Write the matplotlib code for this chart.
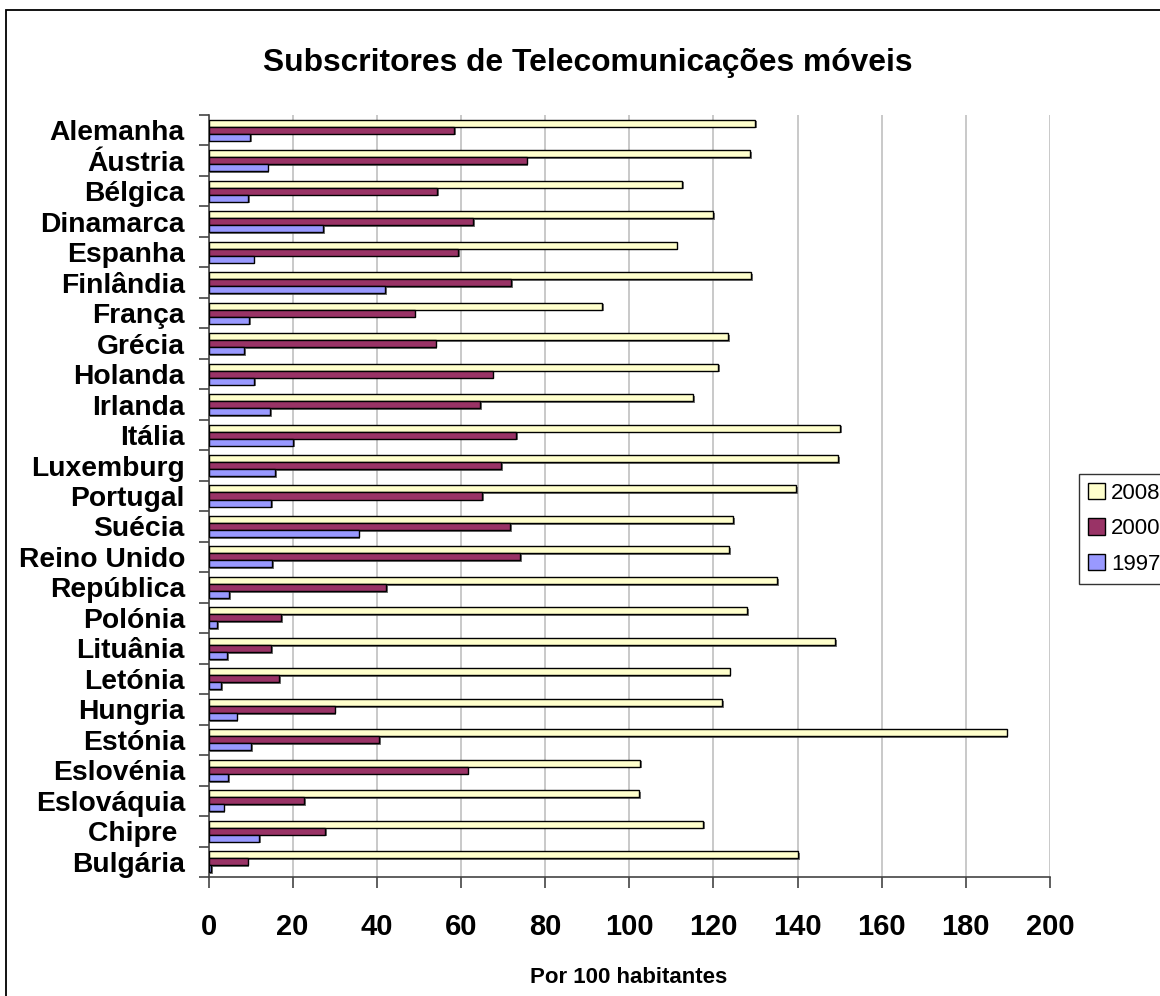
import matplotlib
matplotlib.use("Agg")
import matplotlib.pyplot as plt
import matplotlib.patches as mpatches
import matplotlib.patheffects as pe
import numpy as np

countries = ["Alemanha", "Áustria", "Bélgica", "Dinamarca", "Espanha", "Finlândia",
             "França", "Grécia", "Holanda", "Irlanda", "Itália", "Luxemburg",
             "Portugal", "Suécia", "Reino Unido", "República", "Polónia", "Lituânia",
             "Letónia", "Hungria", "Estónia", "Eslovénia", "Eslováquia", "Chipre ",
             "Bulgária"]
v2008 = [129.9, 128.8, 112.6, 119.9, 111.3, 129.0, 93.5, 123.5, 121.1, 115.2,
         150.1, 149.6, 139.7, 124.7, 123.7, 135.1, 128.1, 148.9, 123.9, 122.1,
         189.7, 102.6, 102.3, 117.5, 140.1]
v2000 = [58.4, 75.6, 54.4, 62.9, 59.3, 71.9, 49.0, 54.0, 67.5, 64.6,
         73.1, 69.5, 65.0, 71.7, 74.1, 42.3, 17.3, 14.9, 16.8, 30.0,
         40.6, 61.6, 22.8, 27.8, 9.3]
v1997 = [9.9, 14.1, 9.5, 27.3, 10.7, 42.0, 9.7, 8.5, 10.9, 14.7,
         20.2, 15.9, 14.9, 35.7, 15.2, 4.9, 2.1, 4.5, 3.0, 6.7,
         10.2, 4.7, 3.6, 12.1, 0.7]
series_names = ["2008", "2000", "1997"]
colors = ["#FFFFCC", "#993366", "#9999FF"]
xticks = [0, 20, 40, 60, 80, 100, 120, 140, 160, 180, 200]

plt.rcParams['font.family'] = ['Liberation Sans', 'DejaVu Sans']

fig = plt.figure(figsize=(11.6, 9.96), dpi=100)
W, H = 1160, 996
ax = fig.add_axes([208.5 / W, 1 - 877 / H, (1050 - 208.5) / W, (877 - 115) / H])

y = np.arange(len(countries))
h = 0.23
shadow = [pe.SimplePatchShadow(offset=(1.2, -1.2), shadow_rgbFace="#555555", alpha=0.8), pe.Normal()]
for vals, off, col, name in zip([v2008, v2000, v1997], [-h, 0, h], colors, series_names):
    bars = ax.barh(y + off, vals, height=h, color=col, edgecolor="black",
                   linewidth=1.0, label=name, zorder=3)
    for b in bars:
        b.set_path_effects(shadow)

ax.set_xlim(0, 200)
ax.set_ylim(len(countries) - 0.5, -0.5)
ax.set_xticks(xticks)
ax.set_xticklabels([str(t) for t in xticks], fontsize=21, fontweight="bold")
ax.tick_params(axis="x", direction="out", length=8, width=1.2, color="#444444", pad=18)
ax.set_yticks(y)
ax.set_yticklabels(countries, fontsize=20.3, fontweight="bold")
ax.tick_params(axis="y", which="major", length=0, pad=17)
ax.set_yticks(np.arange(-0.5, len(countries), 1.0), minor=True)
ax.tick_params(axis="y", which="minor", direction="out", length=7, width=1.2, color="#444444")

ax.grid(axis="x", color="#C0C0C0", linewidth=1.2, zorder=0)
ax.set_axisbelow(True)
for s in ["top", "right"]:
    ax.spines[s].set_visible(False)
for s in ["left", "bottom"]:
    ax.spines[s].set_color("#444444")
    ax.spines[s].set_linewidth(1.2)

fig.text(588 / W, 1 - 63 / H, "Subscritores de Telecomunicações móveis",
         ha="center", va="center", fontsize=22.9, fontweight="bold")
fig.text(629 / W, 1 - 977 / H, "Por 100 habitantes",
         ha="center", va="center", fontsize=16, fontweight="bold")

handles = [mpatches.Patch(facecolor=c, edgecolor="black", linewidth=1.0, label=n)
           for c, n in zip(colors, series_names)]
leg = fig.legend(handles=handles, loc="upper left",
                 bbox_to_anchor=(1079 / W, 1 - 474 / H), fontsize=16,
                 frameon=True, fancybox=False, handlelength=0.75, handleheight=0.75,
                 handletextpad=0.3, labelspacing=0.65, borderpad=0.4, borderaxespad=0)
leg.get_frame().set_edgecolor("black")
leg.get_frame().set_linewidth(1.0)

frame = mpatches.Rectangle((6 / W, -0.1), 1.2, (1 - 10 / H) + 0.1, transform=fig.transFigure,
                           fill=False, edgecolor="black", linewidth=1.3)
fig.patches.append(frame)

fig.savefig("out.png", dpi=100)
